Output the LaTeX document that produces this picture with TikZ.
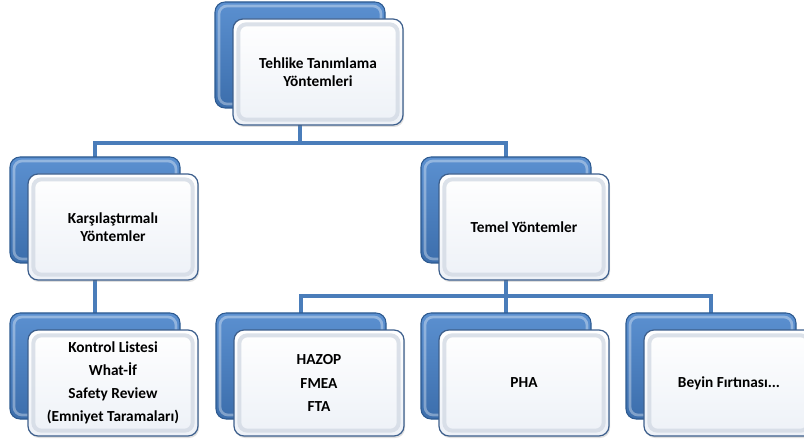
\documentclass[tikz,border=0pt]{standalone}
\usepackage{fontspec}
\setmainfont{Carlito}
\usetikzlibrary{shadows,backgrounds}

\definecolor{bluetop}{HTML}{5B90D0}
\definecolor{bluebot}{HTML}{3C6EAC}
\definecolor{bluedark}{HTML}{2D5A90}
\definecolor{frontedge}{HTML}{3D5F8C}
\definecolor{frontbot}{HTML}{EDF1F7}
\definecolor{rim}{HTML}{D3DAE4}
\definecolor{linkblue}{HTML}{4A7DBA}

\tikzset{
  backbox/.style={rounded corners=7.5pt, minimum width=127.5pt, minimum height=79.5pt,
    inner sep=0pt, outer sep=0pt, draw=bluedark, line width=0.8pt,
    top color=bluetop, bottom color=bluebot,
    path picture={\draw[white, opacity=0.35, line width=2pt, rounded corners=6pt]
      ([shift={(3pt,-3pt)}]path picture bounding box.north west) rectangle
      ([shift={(-3pt,3pt)}]path picture bounding box.south east);}},
  frontbox/.style={rounded corners=7.5pt, minimum width=127.5pt, minimum height=79.5pt,
    inner sep=2pt, outer sep=0pt, draw=frontedge, line width=0.9pt,
    top color=white, bottom color=frontbot,
    drop shadow={opacity=0.25, shadow xshift=0.8pt, shadow yshift=-1.5pt},
    path picture={\draw[rim, opacity=0.8, line width=3pt, rounded corners=6pt]
      ([shift={(4pt,-4pt)}]path picture bounding box.north west) rectangle
      ([shift={(-4pt,4pt)}]path picture bounding box.south east);},
    align=center, text=black, font=\bfseries\fontsize{11.5}{13.3}\selectfont},
  link/.style={draw=linkblue, line width=2.3pt}
}

\begin{document}
\begin{tikzpicture}[x=0.75pt, y=-0.75pt]
\useasboundingbox (0,0) rectangle (804,442);

% level 0
\node[backbox] (top-b) at (300,55) {};
\node[frontbox] (top) at (318,72) {Tehlike Tanımlama\\Yöntemleri};

% level 1
\node[backbox] (karsi-b) at (95,210) {};
\node[frontbox] (karsi) at (113,227) {Karşılaştırmalı\\Yöntemler};
\node[backbox] (temel-b) at (506,210) {};
\node[frontbox] (temel) at (524,227) {Temel Yöntemler};

% level 2
\node[backbox] (kontrol-b) at (95,366) {};
\node[frontbox] (kontrol) at (113,383) {Kontrol Listesi\\[4pt]What-İf\\[4pt]Safety Review\\[4pt](Emniyet Taramaları)};
\node[backbox] (hazop-b) at (301,366) {};
\node[frontbox] (hazop) at (319,383) {HAZOP\\[4pt]FMEA\\[4pt]FTA};
\node[backbox] (pha-b) at (506,366) {};
\node[frontbox] (pha) at (524,383) {PHA};
\node[backbox] (beyin-b) at (711,366) {};
\node[frontbox] (beyin) at (729,383) {Beyin Fırtınası...};

% connectors behind the boxes
\coordinate (bus1) at (0,143);
\coordinate (bus2) at (0,296);
\begin{pgfonlayer}{background}
  \draw[link] (top-b.center) -- (top-b.center |- bus1) -| (karsi-b.center);
  \draw[link] (top-b.center |- bus1) -| (temel-b.center);
  \draw[link] (karsi-b.center) -- (kontrol-b.center);
  \draw[link] (temel-b.center) -- (temel-b.center |- bus2) -| (hazop-b.center);
  \draw[link] (temel-b.center |- bus2) -| (beyin-b.center);
  \draw[link] (temel-b.center |- bus2) -- (pha-b.center);
\end{pgfonlayer}
\end{tikzpicture}
\end{document}
